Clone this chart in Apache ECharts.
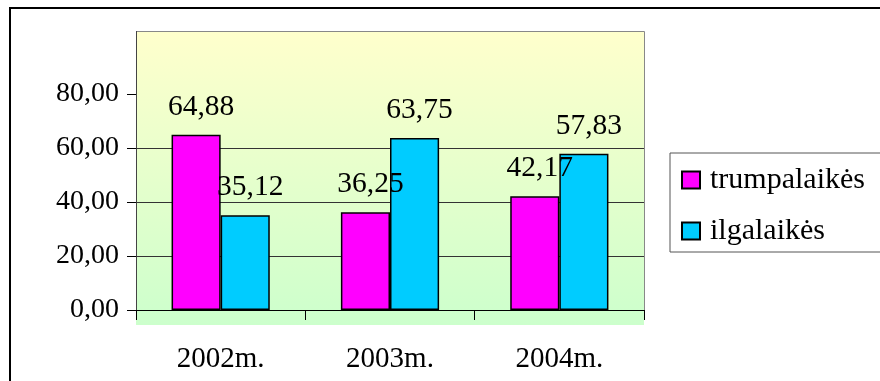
<!DOCTYPE html>
<html>
<head>
<meta charset="utf-8">
<script src="https://cdn.jsdelivr.net/npm/echarts@6/dist/echarts.min.js"></script>
<style>
html,body{margin:0;padding:0;background:#fff;}
#c{width:880px;height:381px;}
</style>
</head>
<body>
<div id="c"></div>
<script>
const categories = ['2002m.', '2003m.', '2004m.'];
const seriesNames = ['trumpalaikės', 'ilgalaikės'];
const trumpalaikes = [64.88, 36.25, 42.17];
const ilgalaikes = [35.12, 63.75, 57.83];
const yTicks = [0, 20, 40, 60, 80];

const FONT = 'Liberation Serif';
const fmt = v => Number(v).toFixed(2).replace('.', ',');

const chart = echarts.init(document.getElementById('c'), null, {renderer: 'canvas'});
chart.setOption({
  animation: false,
  backgroundColor: '#ffffff',
  textStyle: {fontFamily: FONT},
  graphic: {
    elements: [
      {
        type: 'rect', z: -10, silent: true,
        shape: {x: 136, y: 31, width: 508, height: 294},
        style: {
          fill: new echarts.graphic.LinearGradient(0, 0, 0, 1, [
            {offset: 0, color: '#FFFFCC'},
            {offset: 1, color: '#CCFFCC'}
          ])
        }
      },
      {
        type: 'polyline', z: -9, silent: true,
        shape: {points: [[644.5, 310], [644.5, 31.5], [136.5, 31.5], [136.5, 310]]},
        style: {stroke: '#888888', lineWidth: 1, fill: null}
      },
      {
        type: 'line', z: -8, silent: true,
        shape: {x1: 136.5, y1: 31, x2: 136.5, y2: 310},
        style: {stroke: '#444444', lineWidth: 1}
      },
      {
        type: 'rect', z: 100, silent: true,
        shape: {x: 10, y: 8, width: 1000, height: 1000},
        style: {fill: null, stroke: '#000000', lineWidth: 2}
      }
    ]
  },
  grid: {left: 136, right: 236, top: 40, bottom: 71, containLabel: false},
  legend: {
    orient: 'vertical',
    left: 670, top: 153,
    data: seriesNames,
    icon: 'rect',
    itemWidth: 18, itemHeight: 17,
    itemGap: 21,
    padding: [12, 16, 6, 11],
    borderColor: '#555', borderWidth: 1,
    itemStyle: {borderColor: '#000', borderWidth: 2},
    textStyle: {fontFamily: FONT, fontSize: 30, color: '#000', padding: [0, 0, 0, 5]}
  },
  xAxis: {
    type: 'category',
    data: categories,
    axisLine: {show: true, lineStyle: {color: '#000', width: 1}},
    axisTick: {show: true, alignWithLabel: false, length: 10, lineStyle: {color: '#000'}},
    axisLabel: {color: '#000', fontFamily: FONT, fontSize: 29, margin: 35},
    splitLine: {show: false}
  },
  yAxis: {
    type: 'value',
    min: 0, max: 100, interval: 20,
    axisLine: {show: false},
    axisTick: {show: true, length: 9, customValues: yTicks, lineStyle: {color: '#000'}},
    axisLabel: {
      color: '#000', fontFamily: FONT, fontSize: 28, margin: 17,
      formatter: v => (yTicks.indexOf(v) >= 0 ? fmt(v) : '')
    },
    splitLine: {show: true, showMaxLine: false, lineStyle: {color: '#333', width: 1}}
  },
  series: [
    {
      name: seriesNames[0], type: 'bar', data: trumpalaikes,
      barGap: '0%', barCategoryGap: '42%',
      itemStyle: {color: '#FF00FF', borderColor: '#000', borderWidth: 1.5},
      label: {show: true, position: 'top', distance: 13, offset: [5, 0],
        fontFamily: FONT, fontSize: 29.5, color: '#000', formatter: p => fmt(p.value)}
    },
    {
      name: seriesNames[1], type: 'bar', data: ilgalaikes,
      barGap: '0%', barCategoryGap: '42%',
      itemStyle: {color: '#00CCFF', borderColor: '#000', borderWidth: 1.5},
      label: {show: true, position: 'top', distance: 13, offset: [5, 0],
        fontFamily: FONT, fontSize: 29.5, color: '#000', formatter: p => fmt(p.value)}
    }
  ]
});
</script>
</body>
</html>
